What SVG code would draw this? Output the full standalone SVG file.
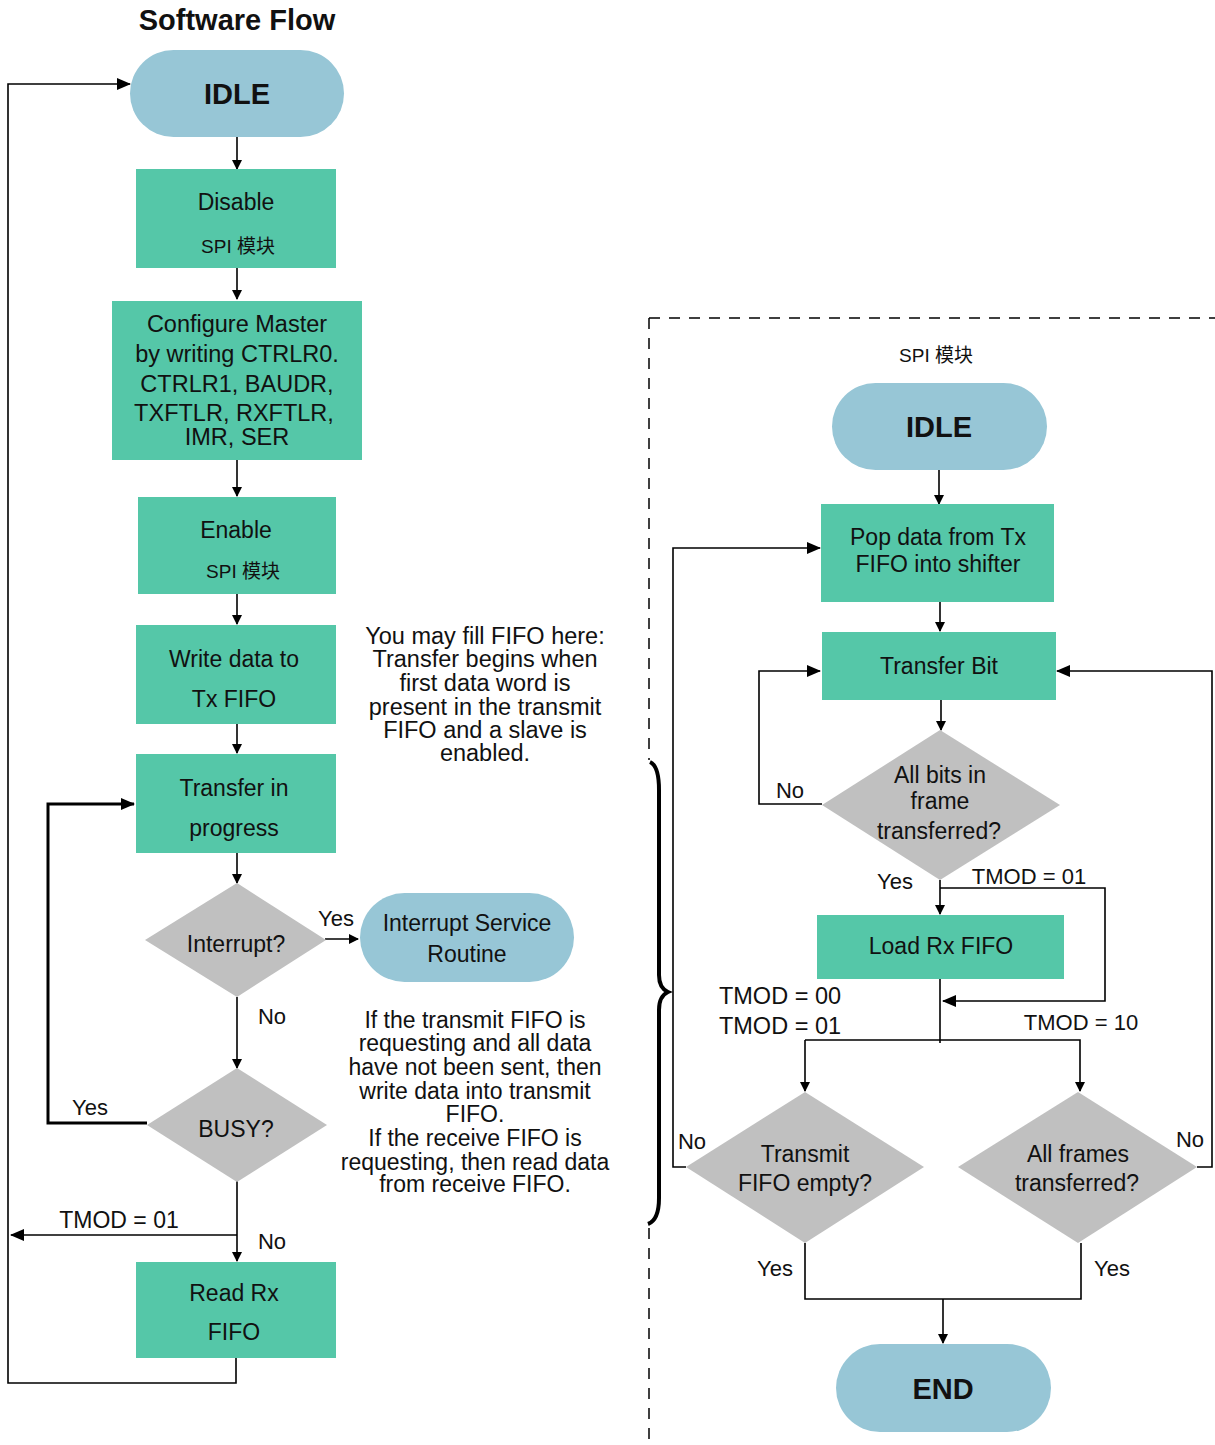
<svg xmlns="http://www.w3.org/2000/svg" width="1215" height="1445" viewBox="0 0 1215 1445">
  <style>
    text { font-family: "Liberation Sans", Arial, "Noto Sans CJK SC", sans-serif; fill: #111; text-anchor: middle; }
    .t { font-size: 23px; }
    .s { font-size: 19px; }
    .n { font-size: 23px; }
    .h { font-size: 29px; font-weight: bold; }
    .l { font-size: 22px; }
    .w { font-size: 23.5px; }
    .box { fill: #55c7a8; }
    .pill { fill: #97c6d6; }
    .dia { fill: #c0c0c0; }
    .ln { fill: none; stroke: #000; stroke-width: 1.6; }
    .thick { fill: none; stroke: #000; stroke-width: 3; }
  </style>
  <defs>
    <marker id="arr" markerWidth="10" markerHeight="10" refX="9" refY="5" orient="auto" markerUnits="userSpaceOnUse">
      <path d="M0,0 L10,5 L0,10 Z" fill="#000"/>
    </marker>
    <marker id="arrL" markerWidth="14" markerHeight="12" refX="13" refY="6" orient="auto" markerUnits="userSpaceOnUse">
      <path d="M0,0 L14,6 L0,12 Z" fill="#000"/>
    </marker>
  </defs>
  <rect width="1215" height="1445" fill="#fff"/>

  <text x="237" y="30" style="font-size:29px;font-weight:bold">Software Flow</text>

  <!-- container of the SPI module flow -->
  <g id="spi-frame">
    <path d="M649,318 H1215 M649,318 V760 M649,1228 V1445" fill="none" stroke="#000" stroke-width="1.5" stroke-dasharray="11,9"/>
    <path d="M650,762 Q659,766 659,790 V975 Q659,988 668,992 Q659,996 659,1010 V1198 Q659,1220 648,1224" fill="none" stroke="#000" stroke-width="4"/>
    <text x="936" y="362" class="s">SPI 模块</text>
  </g>

  <!-- connectors -->
  <g id="connectors">
    <!-- left flow -->
    <path class="ln" d="M237,137 V169" marker-end="url(#arr)"/>
    <path class="ln" d="M237,268 V299" marker-end="url(#arr)"/>
    <path class="ln" d="M237,460 V496" marker-end="url(#arr)"/>
    <path class="ln" d="M237,594 V624" marker-end="url(#arr)"/>
    <path class="ln" d="M237,724 V753" marker-end="url(#arr)"/>
    <path class="ln" d="M237,853 V883" marker-end="url(#arr)"/>
    <path class="ln" d="M325,939 H358" marker-end="url(#arr)"/>
    <path class="ln" d="M237,997 V1068" marker-end="url(#arr)"/>
    <path class="thick" d="M147,1123 H48 V804 H134" marker-end="url(#arrL)"/>
    <path class="ln" d="M237,1180 V1261" marker-end="url(#arr)"/>
    <path class="ln" d="M237,1235 H11" marker-end="url(#arrL)"/>
    <path class="ln" d="M236,1356 V1383 H8 V84 H130" marker-end="url(#arrL)"/>

    <!-- right flow -->
    <path class="ln" d="M939,470 V504" marker-end="url(#arr)"/>
    <path class="ln" d="M940,602 V631" marker-end="url(#arr)"/>
    <path class="ln" d="M941,700 V730" marker-end="url(#arr)"/>
    <path class="ln" d="M822,804 H759 V671 H820" marker-end="url(#arrL)"/>
    <path class="ln" d="M940,880 V914" marker-end="url(#arr)"/>
    <path class="ln" d="M940,888 H1105 V1001 H943" marker-end="url(#arrL)"/>
    <path class="ln" d="M940,979 V1043"/>
    <path class="ln" d="M805,1040 H1080 V1091" marker-end="url(#arr)"/>
    <path class="ln" d="M805,1040 V1091" marker-end="url(#arr)"/>
    <path class="ln" d="M686,1167 H673 V548 H820" marker-end="url(#arrL)"/>
    <path class="ln" d="M1197,1167 H1212 V671 H1057" marker-end="url(#arrL)"/>
    <path class="ln" d="M805,1243 V1299 H1081 V1243"/>
    <path class="ln" d="M943,1299 V1343" marker-end="url(#arr)"/>
  </g>

  <!-- left flow nodes -->
  <g id="idle-left">
    <rect class="pill" x="130" y="50" width="214" height="87" rx="43.5"/>
    <text x="237" y="104" class="h">IDLE</text>
  </g>
  <g id="disable">
    <rect class="box" x="136" y="169" width="200" height="99"/>
    <text x="236" y="210" class="t">Disable</text>
    <text x="238" y="253" class="s">SPI 模块</text>
  </g>
  <g id="configure">
    <rect class="box" x="112" y="301" width="250" height="159"/>
    <text x="237" y="332" class="w">Configure Master</text>
    <text x="237" y="362" class="w">by writing CTRLR0.</text>
    <text x="237" y="392" class="w">CTRLR1, BAUDR,</text>
    <text x="234" y="421" class="w">TXFTLR, RXFTLR,</text>
    <text x="237" y="445" class="w">IMR, SER</text>
  </g>
  <g id="enable">
    <rect class="box" x="138" y="497" width="198" height="97"/>
    <text x="236" y="538" class="t">Enable</text>
    <text x="243" y="578" class="s">SPI 模块</text>
  </g>
  <g id="write-tx">
    <rect class="box" x="136" y="625" width="200" height="99"/>
    <text x="234" y="667" class="t">Write data to</text>
    <text x="234" y="707" class="t">Tx FIFO</text>
  </g>
  <g id="transfer-progress">
    <rect class="box" x="136" y="754" width="200" height="99"/>
    <text x="234" y="796" class="t">Transfer in</text>
    <text x="234" y="836" class="t">progress</text>
  </g>
  <g id="interrupt">
    <polygon class="dia" points="237,883 326,940 237,997 145,940"/>
    <text x="236" y="952" class="n">Interrupt?</text>
  </g>
  <g id="isr">
    <rect class="pill" x="360" y="893" width="214" height="89" rx="44.5"/>
    <text x="467" y="931" class="t">Interrupt Service</text>
    <text x="467" y="962" class="t">Routine</text>
  </g>
  <g id="busy">
    <polygon class="dia" points="237,1068 327,1125 237,1182 147,1125"/>
    <text x="236" y="1137" class="t">BUSY?</text>
  </g>
  <g id="read-rx">
    <rect class="box" x="136" y="1262" width="200" height="96"/>
    <text x="234" y="1301" class="t">Read Rx</text>
    <text x="234" y="1340" class="t">FIFO</text>
  </g>

  <!-- left flow labels -->
  <g id="left-labels">
    <text x="336" y="926" class="l">Yes</text>
    <text x="272" y="1024" class="l">No</text>
    <text x="90" y="1115" class="l">Yes</text>
    <text x="119" y="1228" class="t">TMOD = 01</text>
    <text x="272" y="1249" class="l">No</text>
  </g>

  <!-- notes -->
  <g id="note-fill">
    <text x="485" y="644" class="w">You may fill FIFO here:</text>
    <text x="485" y="667" class="w">Transfer begins when</text>
    <text x="485" y="691" class="w">first data word is</text>
    <text x="485" y="715" class="w">present in the transmit</text>
    <text x="485" y="738" class="w">FIFO and a slave is</text>
    <text x="485" y="761" class="w">enabled.</text>
  </g>
  <g id="note-isr">
    <text x="475" y="1028" class="t">If the transmit FIFO is</text>
    <text x="475" y="1051" class="t">requesting and all data</text>
    <text x="475" y="1075" class="t">have not been sent, then</text>
    <text x="475" y="1099" class="t">write data into transmit</text>
    <text x="475" y="1122" class="t">FIFO.</text>
    <text x="475" y="1146" class="t">If the receive FIFO is</text>
    <text x="475" y="1170" class="t">requesting, then read data</text>
    <text x="475" y="1192" class="t">from receive FIFO.</text>
  </g>

  <!-- right flow nodes -->
  <g id="idle-right">
    <rect class="pill" x="832" y="383" width="215" height="87" rx="43.5"/>
    <text x="939" y="437" class="h">IDLE</text>
  </g>
  <g id="pop-data">
    <rect class="box" x="821" y="504" width="233" height="98"/>
    <text x="938" y="545" class="t">Pop data from Tx</text>
    <text x="938" y="572" class="t">FIFO into shifter</text>
  </g>
  <g id="transfer-bit">
    <rect class="box" x="822" y="632" width="234" height="68"/>
    <text x="939" y="674" class="t">Transfer Bit</text>
  </g>
  <g id="all-bits">
    <polygon class="dia" points="940,730 1060,805 940,880 822,805"/>
    <text x="940" y="783" class="t">All bits in</text>
    <text x="940" y="809" class="t">frame</text>
    <text x="939" y="839" class="t">transferred?</text>
  </g>
  <g id="load-rx">
    <rect class="box" x="817" y="915" width="247" height="64"/>
    <text x="941" y="954" class="t">Load Rx FIFO</text>
  </g>
  <g id="tx-empty">
    <polygon class="dia" points="805,1092 924,1167 805,1243 686,1167"/>
    <text x="805" y="1162" class="t">Transmit</text>
    <text x="805" y="1191" class="t">FIFO empty?</text>
  </g>
  <g id="all-frames">
    <polygon class="dia" points="1078,1092 1197,1167 1078,1243 958,1167"/>
    <text x="1078" y="1162" class="t">All frames</text>
    <text x="1077" y="1191" class="t">transferred?</text>
  </g>
  <g id="end">
    <rect class="pill" x="836" y="1344" width="215" height="88" rx="44"/>
    <text x="943" y="1399" class="h">END</text>
  </g>

  <!-- right flow labels -->
  <g id="right-labels">
    <text x="790" y="798" class="l">No</text>
    <text x="895" y="889" class="l">Yes</text>
    <text x="1029" y="884" class="l">TMOD = 01</text>
    <text x="780" y="1004" class="w">TMOD = 00</text>
    <text x="780" y="1034" class="w">TMOD = 01</text>
    <text x="1081" y="1030" class="l">TMOD = 10</text>
    <text x="692" y="1149" class="l">No</text>
    <text x="1190" y="1147" class="l">No</text>
    <text x="775" y="1276" class="l">Yes</text>
    <text x="1112" y="1276" class="l">Yes</text>
  </g>
</svg>
